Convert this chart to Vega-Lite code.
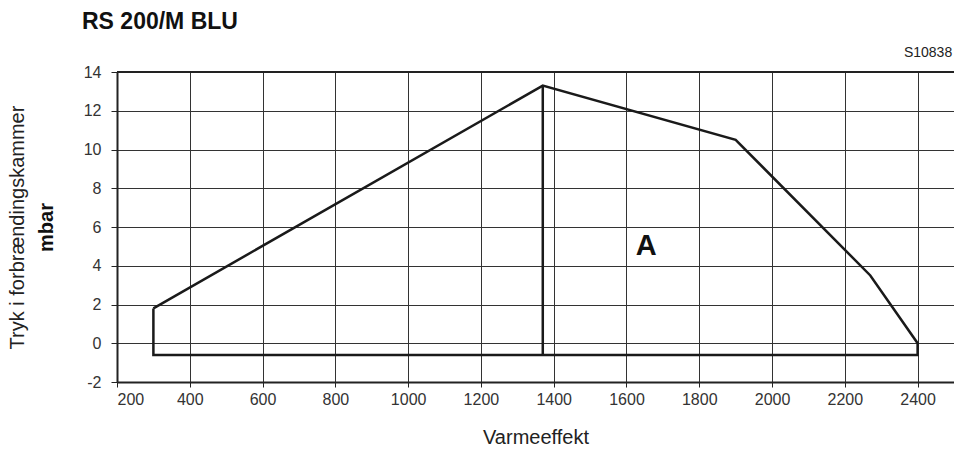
{
  "$schema": "https://vega.github.io/schema/vega-lite/v6.json",
  "width": 837,
  "height": 310,
  "autosize": {"type": "none"},
  "padding": {"left": 117, "top": 72, "right": 0, "bottom": 71},
  "background": "white",
  "config": {
    "view": {"stroke": null},
    "font": "Liberation Sans"
  },
  "title": {
    "text": "RS 200/M BLU",
    "anchor": "start",
    "frame": "group",
    "dx": -35,
    "offset": 12,
    "fontSize": 23,
    "fontWeight": "bold",
    "color": "#111",
    "font": "Liberation Sans"
  },
  "datasets": {
    "outline": [
      {"x": 300, "y": 1.8, "o": 1},
      {"x": 1370, "y": 13.3, "o": 2},
      {"x": 1900, "y": 10.5, "o": 3},
      {"x": 2270, "y": 3.5, "o": 4},
      {"x": 2400, "y": 0, "o": 5},
      {"x": 2400, "y": -0.6, "o": 6},
      {"x": 300, "y": -0.6, "o": 7},
      {"x": 300, "y": 1.8, "o": 8}
    ],
    "divider": [{"x": 1370, "y": -0.6, "y2": 13.3}],
    "top": [{"y": 14}],
    "labelA": [{"x": 1654, "y": 5.0, "t": "A"}],
    "code": [{"x": 2495, "y": 15.0, "t": "S10838"}]
  },
  "resolve": {"axis": {"y": "independent"}},
  "layer": [
    {
      "data": {"name": "top"},
      "mark": {"type": "rule", "color": "#222", "strokeWidth": 2},
      "encoding": {
        "y": {"field": "y", "type": "quantitative", "scale": {"domain": [-2, 14], "nice": false, "zero": false}, "axis": {
          "orient": "left",
          "title": "Tryk i forbrændingskammer",
          "titleFontSize": 20,
          "titleFontWeight": "normal",
          "titleColor": "#222",
          "titleFont": "Liberation Sans",
          "titlePadding": 90,
          "labels": false,
          "ticks": false,
          "domain": false,
          "grid": false
        }}
      }
    },
    {
      "data": {"name": "outline"},
      "mark": {"type": "line", "color": "#1a1a1a", "strokeWidth": 2.5, "strokeJoin": "miter"},
      "encoding": {
        "x": {"field": "x", "type": "quantitative", "scale": {"domain": [200, 2500], "nice": false, "zero": false},
          "axis": {
            "values": [200, 300, 400, 500, 600, 700, 800, 900, 1000, 1100, 1200, 1300, 1400, 1500, 1600, 1700, 1800, 1900, 2000, 2100, 2200, 2300, 2400, 2500],
            "labelExpr": "datum.value % 200 == 0 && datum.value < 2500 ? '' + datum.value : ''",
            "title": "Varmeeffekt",
            "titleFontSize": 20,
            "titleFontWeight": "normal",
            "titleColor": "#222",
            "titlePadding": 20,
            "labelFontSize": 16,
            "labelColor": "#333",
            "labelPadding": 4,
            "labelOverlap": false,
            "tickSize": 5,
            "tickColor": "#222",
            "domainColor": "#222",
            "domainWidth": 2,
            "grid": true,
            "gridColor": "#333",
            "gridWidth": 1,
            "gridOpacity": 1
          }},
        "y": {"field": "y", "type": "quantitative", "scale": {"domain": [-2, 14], "nice": false, "zero": false},
          "axis": {
            "orient": "left",
            "values": [-2, 0, 2, 4, 6, 8, 10, 12, 14],
            "labelExpr": "'' + datum.value",
            "title": "mbar",
            "titleFontSize": 20,
            "titleFontWeight": "bold",
            "titleColor": "#111",
            "titlePadding": 27,
            "labelFontSize": 16,
            "labelColor": "#333",
            "labelPadding": 10,
            "tickSize": 6,
            "tickColor": "#222",
            "domainColor": "#222",
            "domainWidth": 2,
            "grid": true,
            "gridColor": "#333",
            "gridWidth": 1,
            "gridOpacity": 1
          }},
        "order": {"field": "o", "type": "quantitative"}
      }
    },
    {
      "data": {"name": "divider"},
      "mark": {"type": "rule", "color": "#1a1a1a", "strokeWidth": 2.5},
      "encoding": {
        "x": {"field": "x", "type": "quantitative"},
        "y": {"field": "y", "type": "quantitative", "axis": null},
        "y2": {"field": "y2"}
      }
    },
    {
      "data": {"name": "labelA"},
      "mark": {"type": "text", "fontSize": 29, "fontWeight": "bold", "color": "#111", "align": "center", "baseline": "middle"},
      "encoding": {
        "x": {"field": "x", "type": "quantitative"},
        "y": {"field": "y", "type": "quantitative", "axis": null},
        "text": {"field": "t"}
      }
    },
    {
      "data": {"name": "code"},
      "mark": {"type": "text", "fontSize": 14, "color": "#222", "align": "right", "baseline": "middle", "clip": false},
      "encoding": {
        "x": {"field": "x", "type": "quantitative"},
        "y": {"field": "y", "type": "quantitative", "axis": null},
        "text": {"field": "t"}
      }
    }
  ]
}
